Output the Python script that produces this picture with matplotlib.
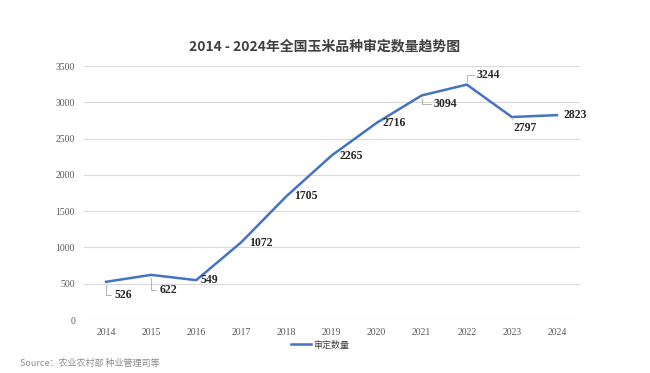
import numpy as np
import matplotlib.pyplot as plt

years = ['2014', '2015', '2016', '2017', '2018', '2019', '2020', '2021', '2022', '2023', '2024']
counts = [526, 622, 549, 1072, 1705, 2265, 2716, 3094, 3244, 2797, 2823]
# label offsets in pixels (dx, dy) and whether a leader line is drawn
offsets = [(8, -13), (8, -15), (4, 0), (8, -1), (8, 0), (8, 0), (6, 0), (12, -9), (10, 10), (2, -11), (7, 0)]
leaders = [True, True, False, False, False, False, False, True, True, True, False]

plt.rcParams['font.family'] = ['Noto Sans CJK SC', 'DejaVu Sans']

fig = plt.figure(figsize=(6.5, 3.73), dpi=100)
ax = fig.add_axes([83.5 / 650, 1 - 320 / 373, 496 / 650, 254 / 373])

x = np.arange(len(years))
ax.plot(x, counts, color='#4472C4', linewidth=1.8, label='审定数量')

for i, v in enumerate(counts):
    dx, dy = offsets[i]
    kw = {}
    if leaders[i]:
        kw['arrowprops'] = dict(arrowstyle='-', color='#a6a6a6', lw=0.6,
                                shrinkA=0, shrinkB=2,
                                connectionstyle='angle,angleA=0,angleB=90,rad=0')
    ax.annotate(str(v), (i, v), xytext=(dx, dy), textcoords='offset pixels',
                ha='left', va='center', fontsize=8.5, fontweight='bold',
                family='Liberation Serif', color='#262626', **kw)

ax.set_xlim(-0.5, len(years) - 0.5)
ax.set_ylim(0, 3500)
ax.set_yticks(np.arange(0, 3501, 500))
ax.set_xticks(x)
ax.set_xticklabels(years)
for lab in ax.get_xticklabels() + ax.get_yticklabels():
    lab.set_family('Liberation Serif')
    lab.set_fontsize(7)
    lab.set_color('#595959')
ax.tick_params(length=0, pad=6)
ax.grid(axis='y', color='#d9d9d9', linewidth=0.8)
ax.set_axisbelow(True)
for s in ax.spines.values():
    s.set_visible(False)

fig.text(0.5, 1 - 46 / 373, '2014 - 2024年全国玉米品种审定数量趋势图', ha='center', va='center',
         fontsize=10, fontweight='bold', color='#404040')

leg = fig.legend(loc='center', bbox_to_anchor=(320 / 650, 1 - 345 / 373), frameon=False,
                 fontsize=6.5, handlelength=2.2, handletextpad=0.3)
for t in leg.get_texts():
    t.set_color('#404040')

fig.text(20 / 650, 1 - 363 / 373, 'Source：农业农村部 种业管理司等', ha='left', va='center',
         fontsize=6.5, color='#8c8c8c')

fig.savefig('out.png', dpi=100)
